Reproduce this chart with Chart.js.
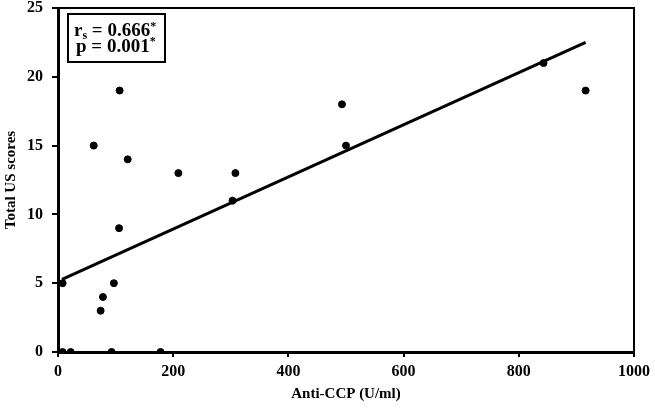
<!DOCTYPE html>
<html>
<head>
<meta charset="utf-8">
<script src="https://cdn.jsdelivr.net/npm/chart.js@4.4.0/dist/chart.umd.min.js"></script>
<style>
  html, body { margin: 0; padding: 0; background: #fff; }
  #wrap { width: 655px; height: 409px; }
</style>
</head>
<body>
<div id="wrap"><canvas id="scatterCanvas"></canvas></div>
<script>
// anti-CCP (U/ml) vs total US score
var antiCcp = [8, 8, 22, 93, 178, 62, 107, 121, 74, 78, 97, 106, 209, 303, 308, 493, 500, 843, 916];
var usScore = [5, 0, 0, 0, 0, 15, 19, 14, 3, 4, 5, 9, 13, 11, 13, 18, 15, 21, 19];

// regression line end points
var fitX = [7, 916];
var fitY = [5.28, 22.5];

var xTicks = [0, 200, 400, 600, 800, 1000];
var yTicks = [0, 5, 10, 15, 20, 25];

var points = [];
for (var i = 0; i < antiCcp.length; i++) {
  points.push({ x: antiCcp[i], y: usScore[i] });
}
var fitLine = [];
for (var j = 0; j < fitX.length; j++) {
  fitLine.push({ x: fitX[j], y: fitY[j] });
}

var serif = "'Liberation Serif', 'Times New Roman', serif";

// draws text pieces one after another, returns the end x
function piece(c, txt, x, y, size) {
  c.font = "bold " + size + "px " + serif;
  c.fillText(txt, x, y);
  return x + c.measureText(txt).width;
}

// frame on top/right and the statistics box
var extras = {
  id: "extras",
  afterDraw: function(chart) {
    var c = chart.ctx, a = chart.chartArea;
    c.save();
    c.strokeStyle = "#000";
    c.lineWidth = 2;
    c.beginPath();
    c.moveTo(a.left, a.top);
    c.lineTo(a.right, a.top);
    c.lineTo(a.right, a.bottom);
    c.stroke();

    // stats box
    c.strokeRect(68, 14, 97, 48);
    c.fillStyle = "#000";
    c.textBaseline = "alphabetic";
    var x = piece(c, "r", 74, 36, 19);
    x = piece(c, "s", x, 39, 12);
    x = piece(c, " = 0.666", x, 36, 19);
    piece(c, "*", x, 30, 12);
    x = piece(c, "p = 0.001", 76, 52, 19);
    piece(c, "*", x, 45, 12);
    c.restore();
  }
};

var ctx = document.getElementById("scatterCanvas");

var chart = new Chart(ctx, {
  type: "scatter",
  data: {
    datasets: [
      {
        label: "Patients",
        data: points,
        backgroundColor: "#000",
        borderColor: "#000",
        pointRadius: 3.5,
        pointHoverRadius: 3.5
      },
      {
        label: "Fit",
        type: "line",
        data: fitLine,
        borderColor: "#000",
        borderWidth: 3,
        pointRadius: 0,
        fill: false,
        tension: 0
      }
    ]
  },
  options: {
    responsive: true,
    maintainAspectRatio: false,
    animation: false,
    layout: { padding: { left: 0, top: 8, right: 19, bottom: 0 } },
    plugins: {
      legend: { display: false },
      tooltip: { enabled: false }
    },
    scales: {
      x: {
        type: "linear",
        min: 0,
        max: 1000,
        afterBuildTicks: function(scale) {
          scale.ticks = xTicks.map(function(v) { return { value: v }; });
        },
        afterFit: function(scale) { scale.height = 57; },
        border: { display: true, color: "#000", width: 3 },
        grid: { drawOnChartArea: false, drawTicks: true, tickLength: 5, color: "#000", lineWidth: 2 },
        ticks: {
          color: "#000",
          padding: 5,
          maxRotation: 0,
          font: { family: serif, size: 16, weight: "bold" },
          callback: function(v) { return String(v); }
        },
        title: {
          display: true,
          text: "Anti-CCP (U/ml)",
          color: "#000",
          padding: { top: 0, bottom: 6 },
          font: { family: serif, size: 15, weight: "bold" }
        }
      },
      y: {
        type: "linear",
        min: 0,
        max: 25,
        afterBuildTicks: function(scale) {
          scale.ticks = yTicks.map(function(v) { return { value: v }; });
        },
        afterFit: function(scale) {
          scale.width = 58;
          scale.paddingTop = 0;
        },
        border: { display: true, color: "#000", width: 3 },
        grid: { drawOnChartArea: false, drawTicks: true, tickLength: 6, color: "#000", lineWidth: 2 },
        ticks: {
          color: "#000",
          padding: 9,
          font: { family: serif, size: 16, weight: "bold" },
          callback: function(v) { return String(v); }
        },
        title: {
          display: true,
          text: "Total US scores",
          color: "#000",
          padding: { top: 2, bottom: 0 },
          font: { family: serif, size: 15, weight: "bold" }
        }
      }
    }
  },
  plugins: [extras]
});
</script>
</body>
</html>
